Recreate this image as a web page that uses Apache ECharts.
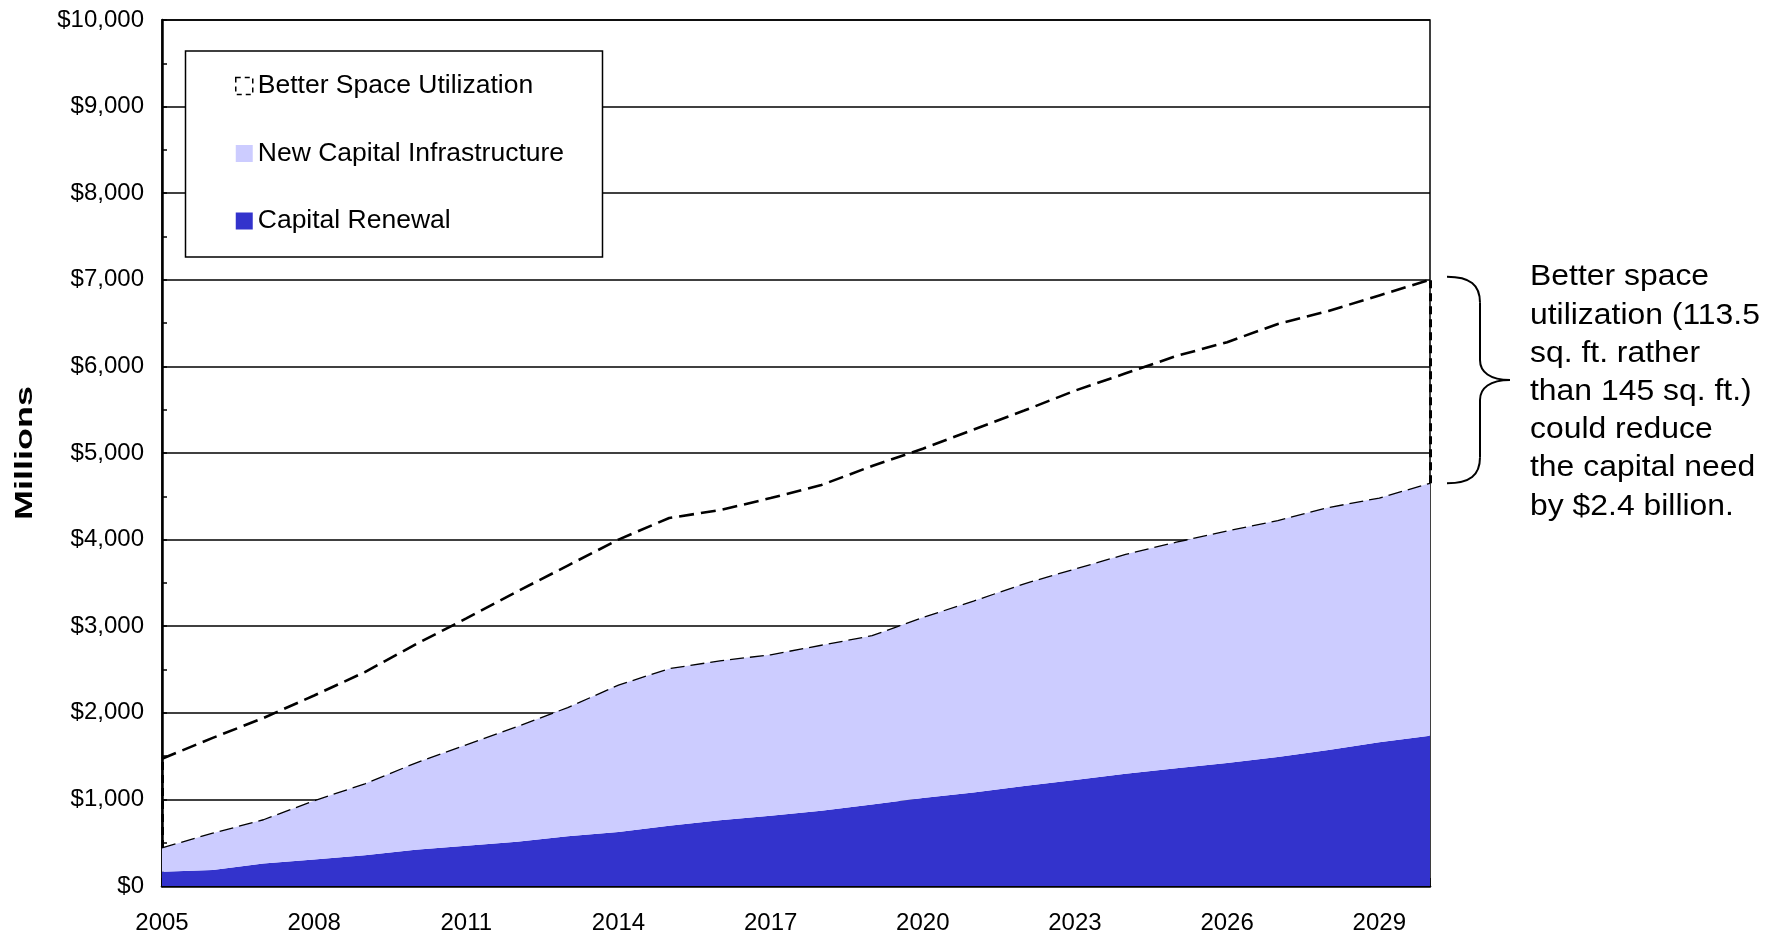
<!DOCTYPE html>
<html>
<head>
<meta charset="utf-8">
<script src="https://cdn.jsdelivr.net/npm/echarts@6/dist/echarts.min.js"></script>
<style>
  html, body { margin: 0; padding: 0; background: #fff; }
  #chart { width: 1782px; height: 939px; }
</style>
</head>
<body>
<div id="chart"></div>
<script>
// ---- Data ----
const years = ['2005','2006','2007','2008','2009','2010','2011','2012','2013','2014','2015','2016','2017',
               '2018','2019','2020','2021','2022','2023','2024','2025','2026','2027','2028','2029','2030'];
// Capital Renewal (bottom layer), $ millions
const capitalRenewal = [165,185,260,305,355,420,465,510,575,625,695,760,810,870,940,1015,1080,1155,1225,1295,1360,1420,1490,1570,1660,1735];
// New Capital Infrastructure (stacked on top of renewal), $ millions
const newCapital = [275,425,505,680,825,1000,1165,1330,1485,1695,1815,1840,1860,1910,1950,2085,2210,2335,2435,2535,2610,2680,2730,2800,2820,2915];
// Better Space Utilization (difference, stacked on top), $ millions
const betterSpace = [1030,1100,1175,1215,1290,1370,1460,1560,1640,1680,1740,1740,1810,1850,1960,1950,1980,2000,2060,2090,2150,2180,2270,2270,2340,2350];
const yTicks = [0,1000,2000,3000,4000,5000,6000,7000,8000,9000,10000];
const seriesNames = ['Better Space Utilization','New Capital Infrastructure','Capital Renewal'];
const noteText = ['Better space','utilization (113.5','sq. ft. rather','than 145 sq. ft.)','could reduce','the capital need','by $2.4 billion.'];

const FONT = 'Liberation Sans, Arial, sans-serif';

const n = years.length;
const midTop = capitalRenewal.map((v, i) => v + newCapital[i]);
const fullTop = midTop.map((v, i) => v + betterSpace[i]);

const chart = echarts.init(document.getElementById('chart'), null, { renderer: 'canvas' });

const option = {
  animation: false,
  backgroundColor: '#fff',
  grid: { left: 162, right: 352, top: 20, bottom: 53, show: true, borderColor: '#000', borderWidth: 1.5, backgroundColor: 'transparent' },
  xAxis: {
    type: 'category', data: years, boundaryGap: false,
    axisLine: { lineStyle: { color: '#000', width: 2.5 } },
    axisTick: { inside: true, length: 8, interval: 0, lineStyle: { color: '#000', width: 1.5 } },
    axisLabel: { interval: 2, color: '#000', fontSize: 24, fontFamily: FONT, margin: 25 },
    splitLine: { show: false }
  },
  yAxis: {
    type: 'value', min: yTicks[0], max: yTicks[yTicks.length - 1], interval: 1000,
    axisLine: { show: true, lineStyle: { color: '#000', width: 2.5 } },
    axisTick: { show: true, inside: true, length: 5, lineStyle: { color: '#000', width: 1.5 } },
    minorTick: { show: true, splitNumber: 2, length: 5, lineStyle: { color: '#000', width: 1.5 } },
    splitLine: { show: true, lineStyle: { color: '#000', width: 1.6 } },
    axisLabel: { color: '#000', fontSize: 24, fontFamily: FONT, margin: 18,
      formatter: v => '$' + v.toLocaleString('en-US') }
  },
  legend: {
    orient: 'vertical', left: 235, top: 71, padding: 0, itemGap: 37.5,
    itemWidth: 17, itemHeight: 17, selectedMode: false, z: 20,
    textStyle: { color: '#000', fontSize: 26.5, fontFamily: FONT, lineHeight: 30 },
    data: [
      { name: seriesNames[0], icon: 'rect', itemStyle: { color: '#fff', borderColor: '#000', borderWidth: 1.5, borderType: [5, 4] } },
      { name: seriesNames[1], icon: 'rect', itemStyle: { color: '#CCCCFF', borderWidth: 0 } },
      { name: seriesNames[2], icon: 'rect', itemStyle: { color: '#3333CC', borderWidth: 0 } }
    ]
  },
  series: [
    {
      name: seriesNames[2], type: 'line', stack: 'total', data: capitalRenewal,
      symbol: 'none', lineStyle: { width: 0, color: '#3333CC' },
      itemStyle: { color: '#3333CC' }, areaStyle: { color: '#3333CC', opacity: 1 }, z: 2
    },
    {
      name: seriesNames[1], type: 'line', stack: 'total', data: newCapital,
      symbol: 'none', lineStyle: { width: 1.3, color: '#000', type: [14, 6] },
      itemStyle: { color: '#CCCCFF' }, areaStyle: { color: '#CCCCFF', opacity: 1 }, z: 3
    },
    {
      name: seriesNames[0], type: 'line', stack: 'total', data: betterSpace,
      symbol: 'none', lineStyle: { width: 2.6, color: '#000', type: [15, 7] },
      itemStyle: { color: '#fff' }, z: 4,
      markLine: {
        silent: true, symbol: 'none', label: { show: false },
        lineStyle: { color: '#000', width: 3, type: [8, 5] },
        data: [
          [{ coord: [years[0], midTop[0]] }, { coord: [years[0], fullTop[0]] }],
          [{ coord: [years[n - 1], midTop[n - 1]] }, { coord: [years[n - 1], fullTop[n - 1]] }]
        ]
      }
    }
  ]
};
chart.setOption(option);

// Annotation elements placed relative to the data via the axes
const xr = chart.convertToPixel({ xAxisIndex: 0 }, years[n - 1]);
const y1 = chart.convertToPixel({ yAxisIndex: 0 }, fullTop[n - 1]) - 3;
const y2 = chart.convertToPixel({ yAxisIndex: 0 }, midTop[n - 1]);
const mid = (y1 + y2) / 2;
const x0 = xr + 17, xv = xr + 50, xt = xr + 80;
const bstyle = { fill: 'none', stroke: '#000', lineWidth: 2 };

chart.setOption({
  graphic: [
    { type: 'rect', z: 15, shape: { x: 185.5, y: 51, width: 417, height: 206 },
      style: { fill: '#fff', stroke: '#000', lineWidth: 1.5 } },
    { type: 'text', z: 15, x: 25, y: 453, rotation: Math.PI / 2, scaleX: 1.5,
      style: { text: 'Millions', fill: '#000', font: 'bold 24px ' + FONT, align: 'center', verticalAlign: 'middle' } },
    { type: 'bezierCurve', z: 15, style: bstyle,
      shape: { x1: x0, y1: y1, cpx1: x0 + 23, cpy1: y1, cpx2: xv, cpy2: y1 + 8, x2: xv, y2: y1 + 26 } },
    { type: 'line', z: 15, style: bstyle, shape: { x1: xv, y1: y1 + 26, x2: xv, y2: mid - 20 } },
    { type: 'bezierCurve', z: 15, style: bstyle,
      shape: { x1: xv, y1: mid - 20, cpx1: xv, cpy1: mid - 8, cpx2: xv + 10, cpy2: mid, x2: xt, y2: mid } },
    { type: 'bezierCurve', z: 15, style: bstyle,
      shape: { x1: xt, y1: mid, cpx1: xv + 10, cpy1: mid, cpx2: xv, cpy2: mid + 8, x2: xv, y2: mid + 20 } },
    { type: 'line', z: 15, style: bstyle, shape: { x1: xv, y1: mid + 20, x2: xv, y2: y2 - 26 } },
    { type: 'bezierCurve', z: 15, style: bstyle,
      shape: { x1: xv, y1: y2 - 26, cpx1: xv, cpy1: y2 - 8, cpx2: x0 + 23, cpy2: y2, x2: x0, y2: y2 } },
    { type: 'text', z: 15, x: xr + 100, y: mid + 12, scaleX: 1.1,
      style: { text: noteText.join('\n'), fill: '#000', font: '29px ' + FONT, lineHeight: 38.2,
        align: 'left', verticalAlign: 'middle' } }
  ]
});
</script>
</body>
</html>
